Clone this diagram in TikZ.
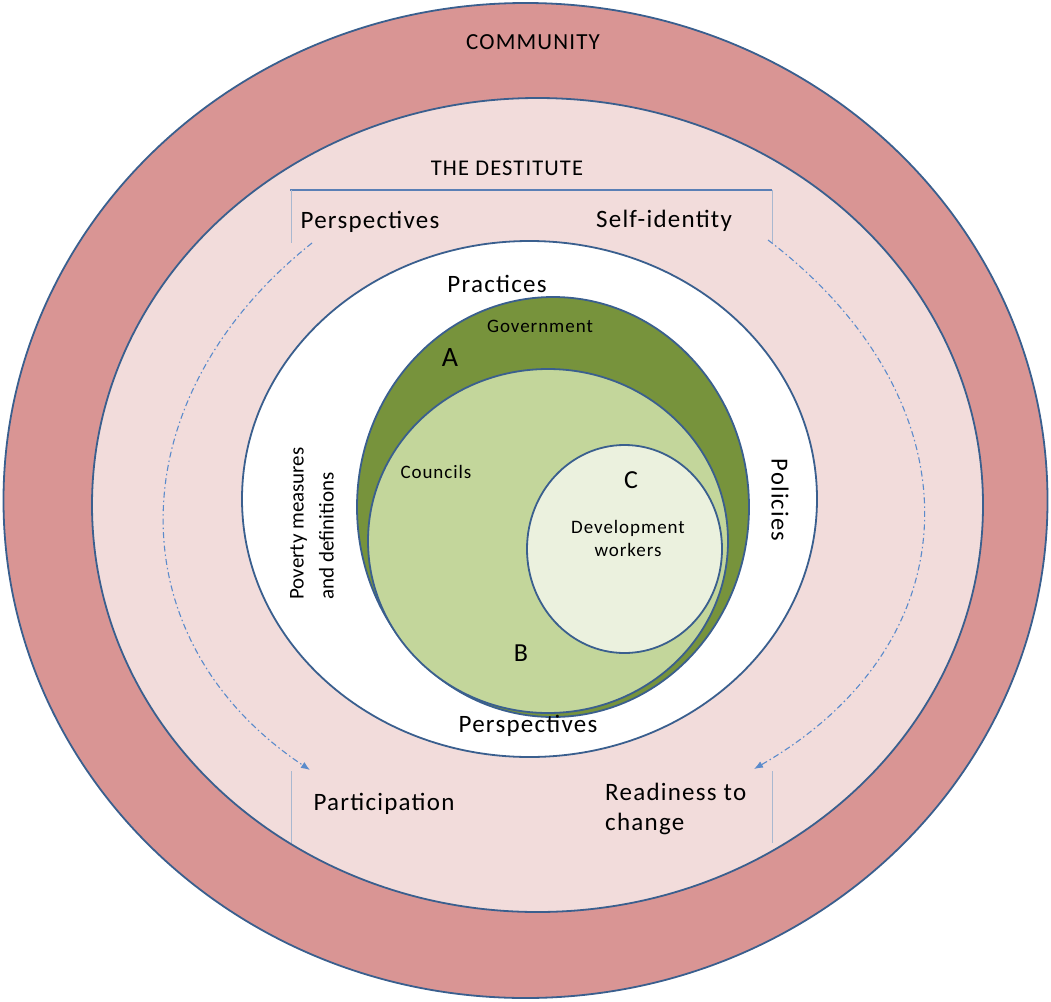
\documentclass[tikz,border=0pt]{standalone}
\usepackage{fontspec}
\setmainfont{Carlito}
\newfontfamily\spaced{Carlito}[LetterSpace=5]
\usetikzlibrary{arrows.meta}

\definecolor{ringout}{HTML}{D99594}
\definecolor{ringmid}{HTML}{F2DCDB}
\definecolor{rimblue}{HTML}{3A5F8E}
\definecolor{govgreen}{HTML}{77933C}
\definecolor{counc}{HTML}{C3D69B}
\definecolor{devw}{HTML}{EBF1DE}
\definecolor{bracketblue}{HTML}{5A7FB5}
\definecolor{tickgray}{HTML}{A9B8D0}
\definecolor{flow}{HTML}{5B8BCB}

\begin{document}
\begin{tikzpicture}[x=1pt,y=-1pt,
  ring/.style={draw=rimblue, line width=1.8pt},
  lbl/.style={inner sep=0pt, text=black, font=\spaced\fontsize{25}{30}\selectfont},
  head/.style={inner sep=0pt, text=black, font=\spaced\fontsize{22.5}{26}\selectfont},
  small/.style={inner sep=0pt, text=black, font=\spaced\fontsize{19}{23}\selectfont},
  letter/.style={inner sep=0pt, text=black, font=\fontsize{26}{30}\selectfont},
  bracket/.style={draw=bracketblue, line width=1.1pt},
  tick/.style={draw=tickgray, line width=1pt},
  flowline/.style={draw=flow, line width=1.1pt,
    dash pattern=on 6pt off 3pt on 1.5pt off 3pt,
    -{Latex[length=9pt,width=7pt]}}
]
\useasboundingbox (0,0) rectangle (1051,1001);
\fill[white] (0,0) rectangle (1051,1001);

% nested rings
\path[ring, fill=ringout] (525.5,500.5) ellipse [x radius=522, y radius=497.5];
\path[ring, fill=ringmid] (537.5,505) ellipse [x radius=445.5, y radius=407];
\path[ring, fill=white]   (529.5,499) ellipse [x radius=287.5, y radius=258];

% overlapping sets A, B, C
\path[ring, fill=govgreen] (553,507) ellipse [x radius=196, y radius=210];
\path[ring, fill=counc]    (548,541) ellipse [x radius=180, y radius=172];
\path[ring, fill=devw]     (624.5,549) ellipse [x radius=97.5, y radius=104];

% ring titles
\node[head, font=\spaced\fontsize{23}{26}\selectfont] (community) at (533,42) {COMMUNITY};
\node[head] (destitute) at (507,168) {THE DESTITUTE};

% bracket round the destitute's perspectives
\draw[bracket] (290,190) -- (772,190);
\draw[tick] (291,190) -- (291,243);
\draw[tick] (772,190) -- (772,243);
\draw[tick] (291,771) -- (291,843);
\draw[tick] (772,771) -- (772,843);

\node[lbl] (persp) at (370,222) {Perspectives};
\node[lbl] (selfid) at (664,221) {Self-identity};
\node[lbl] (partic) at (384,804) {Participation};
\node[lbl, align=left, anchor=west] (ready) at (605,809) {Readiness to\\change};

% flows from perspectives to outcomes
\coordinate (lfrom) at (312,243);
\coordinate (lto)   at (310,770);
\coordinate (rfrom) at (768,240);
\coordinate (rto)   at (754,769);
\draw[flowline] (lfrom) .. controls (115,400) and (115,640) .. (lto);
\draw[flowline] (rfrom) .. controls (978,400) and (978,640) .. (rto);

% labels of the white ring
\node[lbl] (practices) at (497,284) {Practices};
\node[lbl] (perspin) at (528,726) {Perspectives};
\node[lbl, rotate=-90, font=\spaced\fontsize{24.5}{30}\selectfont] (policies) at (780,500) {Policies};
\node[lbl, rotate=90, align=left, font=\fontsize{21}{30}\selectfont]
  (poverty) at (312,523.5) {Poverty measures\\and definitions};

% labels of the sets
\node[small] (gov) at (540,326) {Government};
\node[letter, font=\fontsize{28}{30}\selectfont] (la) at (450,358) {A};
\node[small] (councils) at (436,472) {Councils};
\node[letter] (lb) at (521,653) {B};
\node[letter] (lc) at (631,480) {C};
\node[small, align=center] (dev) at (628,538) {Development\\workers};
\end{tikzpicture}
\end{document}
